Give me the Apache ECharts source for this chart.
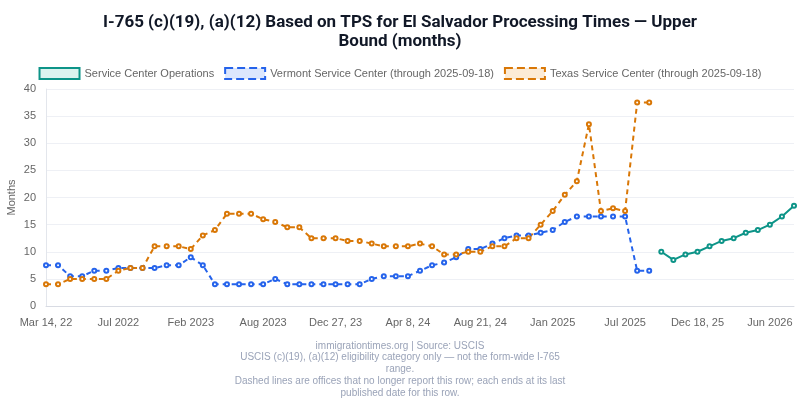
<!DOCTYPE html>
<html><head><meta charset="utf-8">
<script src="https://cdn.jsdelivr.net/npm/echarts@6/dist/echarts.min.js"></script>
<style>html,body{margin:0;padding:0;background:#fff}#c{width:800px;height:400px}</style>
</head><body><div id="c"></div>
<script>
const categories = [
 "Mar 14, 22","Apr 2022","Apr 29, 22","May 2022","Jun 2022","Jun 24, 22",
 "Jul 2022","Aug 2022","Sep 2022","Oct 2022","Nov 2022","Dec 2022",
 "Feb 2023","Mar 2023","Apr 2023","May 2023","Jun 2023","Jul 2023",
 "Aug 2023","Aug 30, 23","Sep 2023","Oct 2023","Nov 2023","Dec 2023",
 "Dec 27, 23","Jan 2024","Feb 2024","Feb 28, 24","Mar 2024","Mar 29, 24",
 "Apr 8, 24","May 2024","Jun 2024","Jun 28, 24","Jul 2024","Aug 2024",
 "Aug 21, 24","Sep 2024","Oct 2024","Nov 2024","Dec 2024","Dec 20, 24",
 "Jan 2025","Feb 2025","Mar 2025","Apr 2025","May 2025","Jun 2025",
 "Jul 2025","Aug 2025","Sep 2025","Oct 2025","Nov 2025","Dec 2025",
 "Dec 18, 25","Jan 2026","Feb 2026","Mar 2026","Apr 2026","May 2026",
 "Jun 2026","Jul 2026","Aug 2026"
];
const vermont = [7.5,7.5,5.5,5.5,6.5,6.5,7,7,7,7,7.5,7.5,9,7.5,4,4,4,4,4,
 5,4,4,4,4,4,4,4,5,5.5,5.5,5.5,6.5,7.5,8,9,10.5,10.5,11.5,12.5,13,13,
 13.5,14,15.5,16.5,16.5,16.5,16.5,16.5,6.5,6.5];
const texas = [4,4,5,5,5,5,6.5,7,7,11,11,11,10.5,13,14,17,17,17,16,
 15.5,14.5,14.5,12.5,12.5,12.5,12,12,11.5,11,11,11,11.5,11,9.5,9.5,10,10,11,11,12.5,12.5,
 15,17.5,20.5,23,33.5,17.5,18,17.5,37.5,37.5];
const scoStart = 51;
const scoValues = [10,8.5,9.5,10,11,12,12.5,13.5,14,15,16.5,18.5];
const yTicks = {min:0, max:40, interval:5};
const footerLines = [
 "immigrationtimes.org | Source: USCIS",
 "USCIS (c)(19), (a)(12) eligibility category only — not the form-wide I-765",
 "range.",
 "Dashed lines are offices that no longer report this row; each ends at its last",
 "published date for this row."
];

const sco = categories.map((c,i)=> i>=scoStart ? scoValues[i-scoStart] : null);

const chart = echarts.init(document.getElementById('c'));
const font = "'Liberation Sans', Arial, sans-serif";
chart.setOption({
  animation:false,
  textStyle:{fontFamily:font},
  title:{
    text:"I-765 (c)(19), (a)(12) Based on TPS for El Salvador Processing Times — Upper\nBound (months)",
    left:'center', top:8,
    textStyle:{fontSize:17, fontWeight:'bold', color:'#111827', lineHeight:19, fontFamily:"Roboto, 'Liberation Sans', Arial, sans-serif"}
  },
  graphic:[{
    type:'text', x:400, y:340,
    style:{text:footerLines.join('\n'), textAlign:'center', fill:'#9aa3b8', fontSize:10, lineHeight:11.8, fontFamily:font}
  }],
  legend:{
    top:62, left:'center', itemWidth:40, itemHeight:11, itemGap:10,
    textStyle:{fontSize:11, color:'#666'},
    data:[
      {name:'Service Center Operations', icon:'rect', itemStyle:{color:'#dcf3ef', borderColor:'#0d9488', borderWidth:2}},
      {name:'Vermont Service Center (through 2025-09-18)', icon:'rect', itemStyle:{color:'#dce7fd', borderColor:'#2563eb', borderWidth:2, borderType:'dashed'}},
      {name:'Texas Service Center (through 2025-09-18)', icon:'rect', itemStyle:{color:'#fcebd6', borderColor:'#d97706', borderWidth:2, borderType:'dashed'}}
    ]
  },
  grid:{left:46, right:6, top:89, bottom:94, containLabel:false, outerBoundsMode:'none'},
  xAxis:{
    type:'category', data:categories, boundaryGap:false,
    axisLine:{lineStyle:{color:'#d8dbe3'}},
    axisTick:{show:false},
    axisLabel:{interval:5, color:'#666', fontSize:11, margin:11},
    splitLine:{show:false}
  },
  yAxis:{
    type:'value', min:yTicks.min, max:yTicks.max, interval:yTicks.interval,
    name:'Months', nameLocation:'middle', nameGap:29, nameRotate:90, nameMoveOverlap:false,
    nameTextStyle:{color:'#666', fontSize:11},
    axisLine:{show:true, lineStyle:{color:'#e3e6ec'}},
    axisTick:{show:false},
    axisLabel:{color:'#666', fontSize:11, margin:10},
    splitLine:{lineStyle:{color:'#eef0f5'}}
  },
  series:[
    {name:'Service Center Operations', type:'line', data:sco, connectNulls:false,
     symbol:'emptyCircle', symbolSize:4, showAllSymbol:true,
     lineStyle:{color:'#0d9488', width:2}, itemStyle:{color:'#0d9488', borderWidth:3}},
    {name:'Vermont Service Center (through 2025-09-18)', type:'line', data:vermont,
     symbol:'emptyCircle', symbolSize:4, showAllSymbol:true,
     lineStyle:{color:'#2563eb', width:2, type:[5,4]}, itemStyle:{color:'#2563eb', borderWidth:3}},
    {name:'Texas Service Center (through 2025-09-18)', type:'line', data:texas,
     symbol:'emptyCircle', symbolSize:4, showAllSymbol:true,
     lineStyle:{color:'#d97706', width:2, type:[5,4]}, itemStyle:{color:'#d97706', borderWidth:3}}
  ]
});
</script></body></html>
